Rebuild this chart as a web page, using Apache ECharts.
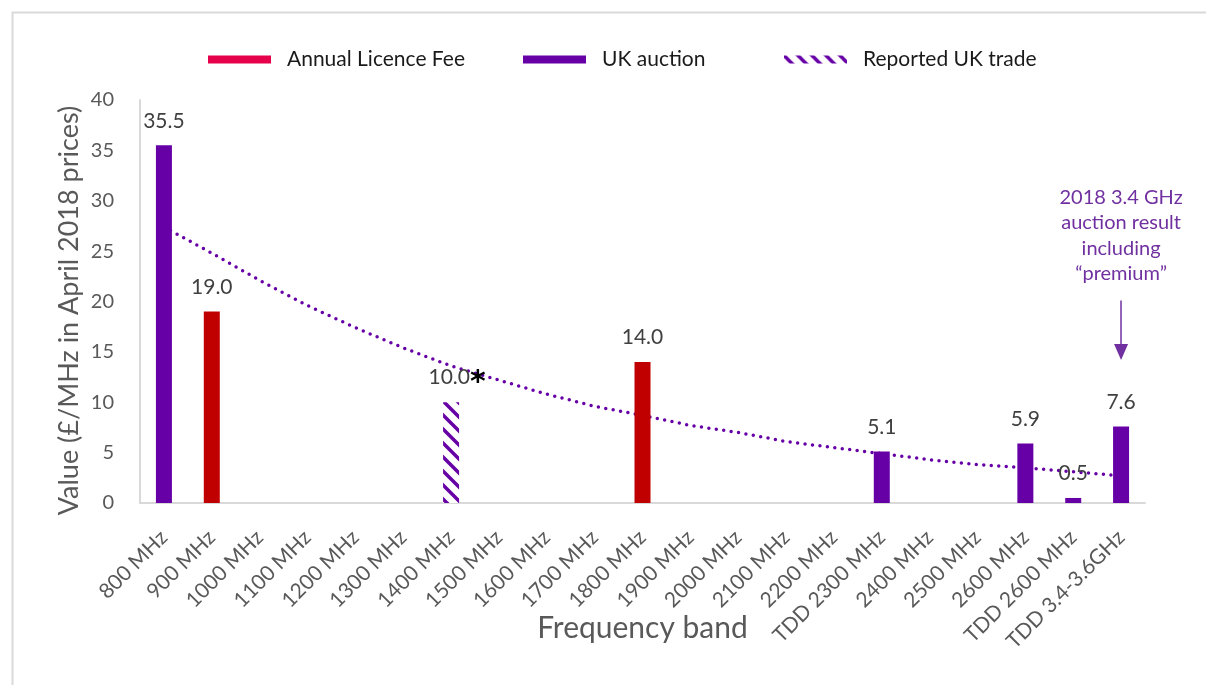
<!DOCTYPE html>
<html>
<head>
<meta charset="utf-8">
<script src="https://cdn.jsdelivr.net/npm/echarts@6/dist/echarts.min.js"></script>
<style>html,body{margin:0;padding:0;background:#fff}#c{width:1206px;height:685px}</style>
</head>
<body>
<div id="c"></div>
<script>
const categories = ['800 MHz','900 MHz','1000 MHz','1100 MHz','1200 MHz','1300 MHz','1400 MHz','1500 MHz','1600 MHz','1700 MHz','1800 MHz','1900 MHz','2000 MHz','2100 MHz','2200 MHz','TDD 2300 MHz','2400 MHz','2500 MHz','2600 MHz','TDD 2600 MHz','TDD 3.4-3.6GHz'];
const annualLicenceFee = [null,19.0,null,null,null,null,null,null,null,null,14.0,null,null,null,null,null,null,null,null,null,null];
const ukAuction = [35.5,null,null,null,null,null,null,null,null,null,null,null,null,null,null,5.1,null,null,5.9,0.5,7.6];
const reportedUKTrade = [null,null,null,null,null,null,10.0,null,null,null,null,null,null,null,null,null,null,null,null,null,null];
const trend = [27.4,24.8,22.1,19.6,17.4,15.4,13.6,12.2,10.8,9.6,8.7,7.7,7.0,6.1,5.5,4.9,4.3,3.8,3.5,3.1,2.7];
const yTicks = [0,5,10,15,20,25,30,35,40];
const annotationText = ['2018 3.4 GHz','auction result','including','\u201Cpremium\u201D'];
const annotationRange = [20.1, 15.0];

const PURPLE = '#6600A6';
const RED = '#C00000';
const LEGEND_RED = '#E6004C';
const NOTE = '#7030A0';
const FONT = 'Lato, "Open Sans", sans-serif';

// hatch pattern
const pc = document.createElement('canvas');
pc.width = 14; pc.height = 14;
const g = pc.getContext('2d');
g.fillStyle = '#fff'; g.fillRect(0,0,14,14);
g.strokeStyle = PURPLE; g.lineWidth = 3.5;
g.beginPath();
g.moveTo(-2,-2); g.lineTo(16,16);
g.moveTo(-2,12); g.lineTo(2,16);
g.moveTo(12,-2); g.lineTo(16,2);
g.stroke();
const hatch = {image: pc, repeat: 'repeat'};

const chart = echarts.init(document.getElementById('c'));
const labelStyle = {show: true, position: 'top', distance: 14, fontSize: 21, color: '#404040', fontFamily: FONT, formatter: p => p.value == null ? '' : p.value.toFixed(1)};
const legendBase = {top: 49, padding: 0, itemWidth: 63, itemHeight: 8, icon: 'rect', textStyle: {fontSize: 21, color: '#1a1a1a', fontFamily: FONT, padding: [0,0,0,11]}, selectedMode: false};

chart.setOption({
  animation: false,
  backgroundColor: '#fff',
  graphic: [{type: 'rect', left: 10, top: 10, shape: {width: 1220, height: 700}, style: {fill: 'none', stroke: '#d9d9d9', lineWidth: 2}, silent: true}],
  legend: [
    Object.assign({}, legendBase, {left: 208, data: [{name: 'Annual Licence Fee', itemStyle: {color: LEGEND_RED}}]}),
    Object.assign({}, legendBase, {left: 523, data: [{name: 'UK auction'}]}),
    Object.assign({}, legendBase, {left: 784, data: [{name: 'Reported UK trade'}]})
  ],
  grid: {left: 140, right: 61, top: 100, bottom: 182, containLabel: false},
  xAxis: {
    type: 'category', data: categories,
    axisLine: {lineStyle: {color: '#d9d9d9', width: 2}},
    axisTick: {show: false},
    axisLabel: {rotate: 45, fontSize: 21, color: '#595959', fontFamily: FONT, interval: 0, margin: 31},
    name: 'Frequency band', nameLocation: 'middle', nameGap: 110, nameMoveOverlap: false,
    nameTextStyle: {fontSize: 30, color: '#595959', fontFamily: FONT}
  },
  yAxis: {
    type: 'value', min: yTicks[0], max: yTicks[yTicks.length-1], interval: 5,
    axisLine: {show: true, lineStyle: {color: '#d9d9d9', width: 2}},
    axisTick: {show: false}, splitLine: {show: false},
    axisLabel: {fontSize: 20, color: '#595959', fontFamily: FONT, margin: 26},
    name: 'Value (\u00A3/MHz in April 2018 prices)', nameLocation: 'middle', nameGap: 57, nameRotate: 90, nameMoveOverlap: false,
    nameTextStyle: {fontSize: 27, color: '#595959', fontFamily: FONT, padding: [0, 18, 0, 0]}
  },
  series: [
    {name: 'Trend', type: 'line', data: trend, symbol: 'none', z: 1, silent: true,
     lineStyle: {color: PURPLE, width: 3.5, type: [0, 7.5], cap: 'round'}},
    {name: 'Annual Licence Fee', type: 'bar', data: annualLicenceFee, barWidth: 16, barGap: '-100%', z: 3,
     itemStyle: {color: RED}, label: labelStyle},
    {name: 'UK auction', type: 'bar', data: ukAuction, barWidth: 16, barGap: '-100%', z: 3,
     itemStyle: {color: PURPLE}, label: labelStyle,
     markLine: {
       silent: true, symbol: ['none', 'triangle'], symbolSize: [14, 16],
       lineStyle: {color: NOTE, width: 1.5, type: 'solid'},
       label: {show: true, position: 'start', distance: 14, formatter: annotationText.join('\n'), color: NOTE, fontSize: 20, lineHeight: 25.5, fontFamily: FONT},
       data: [[{coord: [categories[20], annotationRange[0]]}, {coord: [categories[20], annotationRange[1]]}]]
     }},
    {name: 'Reported UK trade', type: 'bar', data: reportedUKTrade, barWidth: 16, barGap: '-100%', z: 3,
     itemStyle: {color: hatch},
     label: Object.assign({}, labelStyle, {offset: [6, 10], formatter: p => p.value == null ? '' : '{v|' + p.value.toFixed(1) + '}{s|*}',
       rich: {v: {fontSize: 21, color: '#404040', fontFamily: FONT}, s: {fontSize: 30, color: '#000', fontWeight: 'bold', fontFamily: 'DejaVu Sans', padding: [12,0,0,0]}}})}
  ]
});
</script>
</body>
</html>
